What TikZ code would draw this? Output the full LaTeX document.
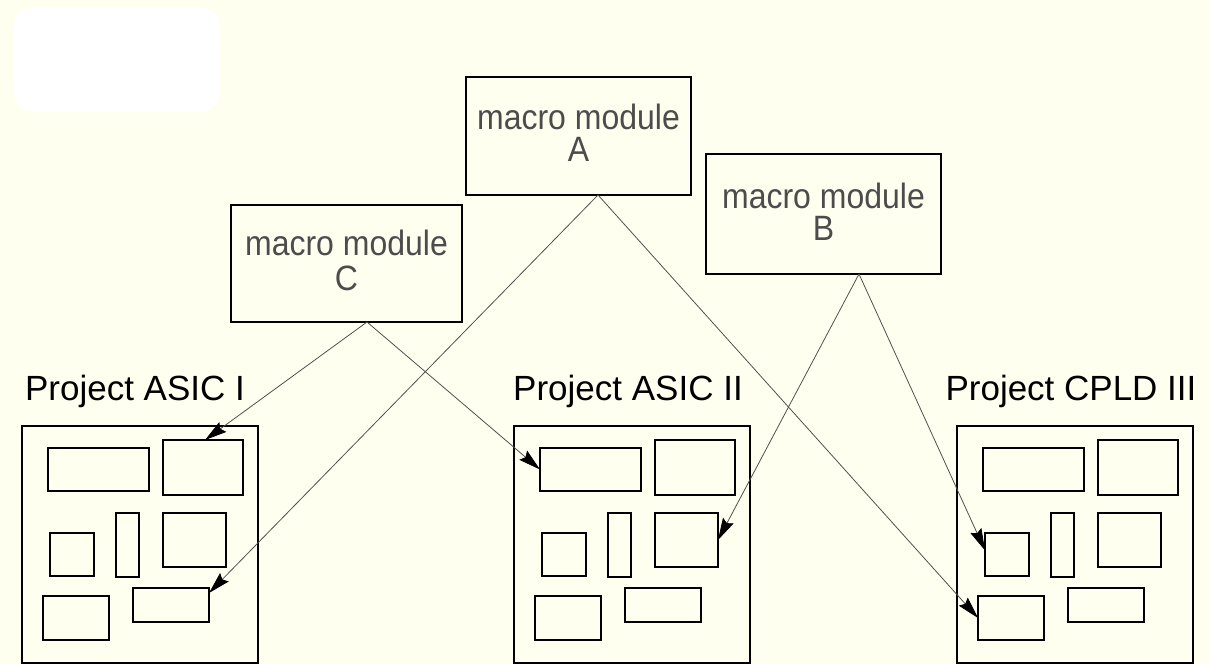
\documentclass[tikz,border=0pt]{standalone}
\usepackage{fontspec}
\setmainfont{Liberation Sans}
\usetikzlibrary{calc,arrows.meta}

\definecolor{paper}{RGB}{255,255,240}
\definecolor{wire}{RGB}{80,80,80}

\tikzset{
  macrobox/.style={draw=black, line width=1.2pt, fill=paper, inner sep=0pt, outer sep=0pt},
  macrotext/.style={font=\fontsize{32}{32}\selectfont, text=black!70, inner sep=0pt},
  board/.style={draw=black, line width=1.3pt, inner sep=0pt, outer sep=0pt,
    minimum width=236pt, minimum height=237pt},
  cell/.style={draw=black, line width=1.2pt, inner sep=0pt, outer sep=0pt},
  boardtitle/.style={font=\fontsize{35}{40}\selectfont, inner sep=0pt},
  conn/.style={wire, line width=0.8pt, ->},
}

% stretched lettering used inside the macro modules
\newcommand\tall[1]{\scalebox{1}[1.1]{#1}}

% one block inside a project board
\newcommand\cell[5]{%
  \node[cell, anchor=north west, minimum width=#4pt, minimum height=#5pt]
    (#1) at ($(#2.north west)+(#3)$) {};}

% a project board with its seven blocks
\newcommand\chipboard[3]{%
  \node[board, anchor=north west] (#1) at (#2,#3) {};
  \cell{#1-1}{#1}{26,22}{101}{43}
  \cell{#1-2}{#1}{141,14}{80}{55}
  \cell{#1-3}{#1}{28,107}{44}{43}
  \cell{#1-4}{#1}{94,87}{23}{64}
  \cell{#1-5}{#1}{141,87}{63}{54}
  \cell{#1-6}{#1}{21,170}{66}{44}
  \cell{#1-7}{#1}{111,162}{76}{34}
}

\begin{document}
\begin{tikzpicture}[x=1pt,y=-1pt,
    >={Stealth[length=22pt,width=12pt,inset=3pt,black]}]
  \useasboundingbox (0,0) rectangle (1210,664);
  \fill[paper] (0,0) rectangle (1210,664);

  % blank panel at the top left
  \fill[white, rounded corners=20pt] (14,7) rectangle (220,112);

  % macro modules
  \node[macrobox, anchor=north west, minimum width=225pt, minimum height=118pt] (A) at (466,77) {};
  \node[macrobox, anchor=north west, minimum width=235pt, minimum height=120pt] (B) at (706,154) {};
  \node[macrobox, anchor=north west, minimum width=231pt, minimum height=117pt] (C) at (231,205) {};

  \node[macrotext, anchor=base] (A1) at ([yshift=-52pt]A.north) {\tall{macro module}};
  \node[macrotext, anchor=base] (A2) at ([yshift=-84pt]A.north) {\tall{A}};
  \node[macrotext, anchor=base] (B1) at ([yshift=-54pt]B.north) {\tall{macro module}};
  \node[macrotext, anchor=base] (B2) at ([yshift=-86pt]B.north) {\tall{B}};
  \node[macrotext, anchor=base] (C1) at ([yshift=-50pt]C.north) {\tall{macro module}};
  \node[macrotext, anchor=base] (C2) at ([yshift=-85pt]C.north) {\tall{C}};

  \coordinate (Aout) at ([xshift=19.5pt]A.south);
  \coordinate (Bout) at ([xshift=35.5pt]B.south);
  \coordinate (Cout) at ([xshift=20.5pt]C.south);

  % project boards
  \chipboard{p1}{22}{426}
  \chipboard{p2}{514}{426}
  \chipboard{p3}{957}{426}

  \node[boardtitle, anchor=base] (t1) at ([xshift=-5pt,yshift=26pt]p1.north) {Project ASIC I};
  \node[boardtitle, anchor=base] (t2) at ([xshift=-4pt,yshift=26pt]p2.north) {Project ASIC II};
  \node[boardtitle, anchor=base] (t3) at ([xshift=-4pt,yshift=26pt]p3.north) {Project CPLD III};

  % reuse of the macro modules
  \draw[conn] (Cout) -- ([xshift=2pt]p1-2.north);
  \draw[conn] (Cout) -- (p2-1.west);
  \draw[conn] (Aout) -- ([yshift=-5pt]p1-7.north east);
  \draw[conn] (Aout) -- (p3-6.west);
  \draw[conn] (Bout) -- (p2-5.east);
  \draw[conn] (Bout) -- ([yshift=4pt]p3-3.west);
\end{tikzpicture}
\end{document}
